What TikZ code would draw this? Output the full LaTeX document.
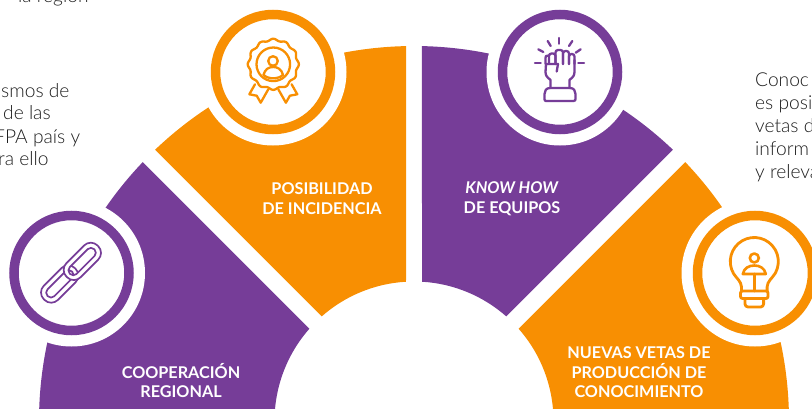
\documentclass[tikz,border=0pt]{standalone}
\usepackage{fontspec}
\setmainfont{Lato}
\newfontfamily\lightfont{Lato Light}
\definecolor{vio}{RGB}{118,61,152}
\definecolor{ora}{RGB}{248,143,2}
\definecolor{bodytxt}{RGB}{30,30,30}
\tikzset{
  x=1pt,y=1pt,
  lab/.style={text=white,font=\fontsize{16.2}{19.6}\selectfont\bfseries,align=center,inner sep=0pt},
  body/.style={text=bodytxt,font=\lightfont\fontsize{19.2}{23}\selectfont,anchor=base west,inner sep=0pt},
  halo/.style={fill=white},
  ring/.style={draw=#1,line width=9.5pt,fill=white},
  ico/.style={draw=#1,line width=2.3pt,line join=round,line cap=round}
}
\begin{document}
\begin{tikzpicture}
\useasboundingbox (0,0) rectangle (812,408);
\clip (0,0) rectangle (812,408);
\begin{scope}[shift={(414,-13)}]
\fill[vio] (185:375) arc[start angle=185,end angle=136.345,radius=375] -- (138.617:139.5) arc[start angle=138.617,end angle=185,radius=139.5] -- cycle;
\fill[ora] (133.655:375) arc[start angle=133.655,end angle=91.22,radius=375] -- (93.29:139.5) arc[start angle=93.29,end angle=131.383,radius=139.5] -- cycle;
\fill[vio] (88.78:375) arc[start angle=88.78,end angle=46.345,radius=375] -- (48.617:139.5) arc[start angle=48.617,end angle=86.71,radius=139.5] -- cycle;
\fill[ora] (43.655:375) arc[start angle=43.655,end angle=-5,radius=375] -- (-5:139.5) arc[start angle=-5,end angle=41.383,radius=139.5] -- cycle;
\end{scope}
% circles
\fill[halo] (71.5,135) circle (73.5);
\fill[halo] (273,336) circle (73.5);
\fill[halo] (560,336) circle (73.5);
\fill[halo] (755,135) circle (73.5);
\draw[ring=vio] (71.5,135) circle (57.5);
\draw[ring=ora] (273,336) circle (57.5);
\draw[ring=vio] (560,336) circle (57.5);
\draw[ring=ora] (755,135) circle (57.5);
% chain icon
\begin{scope}[shift={(71,135.3)},rotate=45]
\draw[ico=vio,line width=1.7pt,even odd rule,fill=white,rounded corners=9.5pt] (-38,-10) rectangle (6,10) [rounded corners=4.5pt] (-33,-4.8) rectangle (1.5,4.8);
\draw[ico=vio,line width=1.7pt,even odd rule,fill=white,rounded corners=9.5pt] (-6,-10) rectangle (38,10) [rounded corners=4.5pt] (-1.5,-4.8) rectangle (33,4.8);
\end{scope}
% icons in reference pixel coordinates
\begin{scope}[shift={(0,408)},y=-1pt]
% rosette
\draw[ico=ora,fill=white] (255,84.3) -- (249.3,94.3) -- (256.7,95.7) -- (260.7,102.7) -- (268.3,89.3);
\draw[ico=ora,fill=white] (291.6,84.3) -- (297.3,94.3) -- (289.9,95.7) -- (285.9,102.7) -- (278.3,89.3);
\draw[ico=ora,fill=white,smooth] plot[domain=0:360,samples=97,variable=\t] ({273.3+(24.6+1*cos(12*\t))*cos(\t)},{64.3+(24.6+1*cos(12*\t))*sin(\t)}) -- cycle;
\draw[ico=ora] (273.3,64.3) circle (16.8);
\draw[ico=ora] (273,61) circle (4.8);
\draw[ico=ora] (263.5,74.8) .. controls (265,69) and (269,67) .. (273.2,67) .. controls (277.4,67) and (281.5,69) .. (283,74.8);
\draw[ico=ora] (263.5,74.8) .. controls (268,79.5) and (278.5,79.5) .. (283,74.8);
% fist
\foreach \a/\b/\c in {549/555.5/53.5,555.5/563/50,563/569/51,569/574.5/54}
  \draw[ico=vio,rounded corners=2.5pt] (\a,64) -- (\a,\c) -- (\b,\c) -- (\b,64);
\draw[ico=vio] (545.5,64) -- (545.5,58) .. controls (545.5,56) .. (549,55.5);
\draw[ico=vio] (558,64) -- (546,64) -- (545.5,72) .. controls (546,76) .. (550.5,80) -- (550.5,88);
\draw[ico=vio] (574.5,60) -- (574.5,72) .. controls (574,76) .. (569.5,80) -- (569.5,88);
\draw[ico=vio] (558,64) -- (556.7,71.5);
\draw[ico=vio] (550,88) -- (570,88) .. controls (574,88) and (575.5,91) .. (575.5,94) -- (575.5,98.5) .. controls (575.5,100.5) .. (573.5,101) -- (546,101) .. controls (544.5,100.5) .. (544.5,98.5) -- (544.5,94) .. controls (544.5,91) and (546,88) .. (550,88);
\foreach \a/\b/\c/\d in {559.3/38/559.3/43.7, 547.7/41/550.7/46, 572.3/41/569/46, 538.3/49.3/543.3/52, 580.7/49.3/575.7/52.7, 535/62.7/540.7/62.7, 578.3/62.7/584/62.7}
  \draw[ico=vio] (\a,\b) -- (\c,\d);
% bulb
\draw[ico=ora,line width=2.8pt] (741.5,291) -- (741.5,287) .. controls (741,281) and (737,279) .. (733.5,273.5) arc[start angle=150,end angle=390,radius=24] .. controls (771.6,279) and (767.6,281) .. (767.1,287) -- (767.1,291);
\draw[ico=ora,line width=2.8pt,rounded corners=2pt] (740.5,291) rectangle (768,298.5);
\draw[ico=ora,line width=2.8pt,rounded corners=3pt] (745,298.5) -- (745,307) -- (763.6,307) -- (763.6,298.5);
\draw[ico=ora,line width=2.6pt] (754.3,258) circle (4.5);
\draw[ico=ora,line width=2.6pt] (742.8,274) .. controls (744,268) and (749,265.5) .. (754.3,265.5) .. controls (759.6,265.5) and (764.6,268) .. (765.8,274) -- cycle;
\draw[ico=ora,line width=2.6pt] (754.3,274) -- (754.3,291);
\end{scope}
% labels
\node[lab] (l1) at (181,27.5) {COOPERACIÓN\\REGIONAL};
\node[lab] (l2) at (322,209.5) {POSIBILIDAD\\DE INCIDENCIA};
\node[lab] (l3) at (512,209.5) {\textit{KNOW HOW}\\DE EQUIPOS};
\node[lab] (l4) at (639,35.5) {NUEVAS VETAS DE\\PRODUCCIÓN DE\\CONOCIMIENTO};
% side text
\node[body] (t0) at (18,405) {la región};
\node[body] (t1) at (1,310) {smos de};
\node[body] (t2) at (3,288) {de las};
\node[body] (t3) at (-6,265) {FPA país y};
\node[body] (t4) at (-2,243) {ra ello};
\node[body] (r1) at (755,321) {Conoc};
\node[body] (r2) at (755,298.5) {es posi};
\node[body] (r3) at (755,276) {vetas d};
\node[body] (r4) at (755,253) {inform};
\node[body] (r5) at (755,230) {y releva};
\end{tikzpicture}
\end{document}
